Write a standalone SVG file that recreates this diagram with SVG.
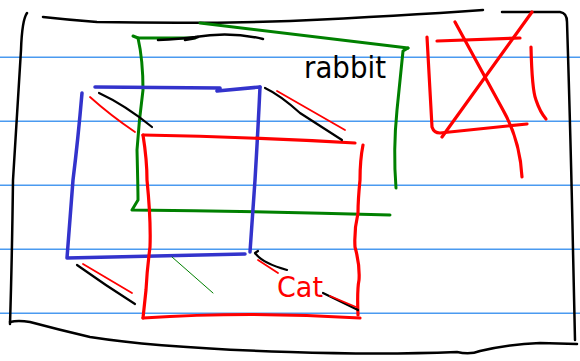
<svg xmlns="http://www.w3.org/2000/svg" width="580" height="361" viewBox="0 0 580 361">
<style>
path{fill:none;stroke-linecap:round;stroke-linejoin:round}
.rule{stroke:#4a9af0;stroke-width:1.5}
.k{stroke:#000;stroke-width:2.5}
.g{stroke:#008000;stroke-width:3}
.b{stroke:#3333cc;stroke-width:3.5}
.r{stroke:#ff0000;stroke-width:3.2}
.rt{stroke:#ff0000;stroke-width:1.8}
.kt{stroke:#000;stroke-width:2.2}
.lbl{font-family:"DejaVu Sans","Liberation Sans",sans-serif}
</style>
<rect width="580" height="361" fill="#fff"/>
<g id="rules">
<path class="rule" d="M0 57.3H580M0 121.3H580M0 185.3H580M0 249.3H580M0 313.3H580"/>
</g>
<g id="frame">
<path class="k" d="M27 13Q22 20 21 50L13 180Q12 260 10 324"/>
<path class="k" d="M10 322Q18 320 30 322Q60 330 90 337Q160 348 290 352Q380 355 457 352Q470 355 480 351Q510 344 540 343L577 344"/>
<path class="k" d="M43 17Q70 20 97 22Q200 24 290 21Q400 16 483 10"/>
<path class="k" d="M502 12L560 12Q567 13 567 22Q571 150 573 250L575 340"/>
</g>
<g id="rabbit">
<path class="g" d="M133 36L138 38Q160 38 195 38"/>
<path class="g" d="M200 23Q300 35 408 48"/>
<path class="g" d="M408 48L403 51Q400 80 397 110Q393 150 396 188"/>
<path class="g" d="M138 38Q143 60 143 90Q139 120 137 150Q138 190 138 200L132 210Q260 211 390 215"/>
<path class="k" d="M158 40Q180 39 195 37Q230 31 263 39"/>
<path class="k" stroke-width="4" d="M185 40Q193 39 198 37"/>
<text class="lbl" x="304" y="78" font-size="30" textLength="82" lengthAdjust="spacingAndGlyphs">rabbit</text>
</g>
<g id="blue-box">
<path class="b" d="M95 87L220 88L217 91L260 87"/>
<path class="b" d="M82 93Q78 140 73 180L67 258L245 254"/>
<path class="b" d="M260 87Q258 130 255 180L250 252"/>
</g>
<g id="cat">
<path class="r" d="M143 135Q250 137 355 143"/>
<path class="r" d="M143 135Q147 160 147 180Q151 220 150 247Q147 270 146 290L143 318"/>
<path class="r" d="M143 318Q250 311 360 318"/>
<path class="r" d="M363 145Q360 160 360 180Q358 200 358 213Q354 230 355 247Q360 265 359 280Q357 290 358 315"/>
<text class="lbl" x="277" y="297" font-size="29" fill="#ff0000" textLength="46" lengthAdjust="spacingAndGlyphs">Cat</text>
</g>
<g id="crossed-box">
<path class="r" d="M427 37Q430 90 432 127Q434 133 440 133L527 124"/>
<path class="r" d="M437 41L520 38"/>
<path class="r" d="M531 47Q532 90 536 100Q540 112 546 119"/>
<path class="r" d="M455 22L503 110Q520 140 522 177"/>
<path class="r" d="M532 12L442 137"/>
</g>
<g id="connectors">
<path class="rt" d="M90 97Q110 115 135 132"/>
<path class="kt" d="M99 93Q125 105 152 127"/>
<path class="kt" d="M265 88Q280 95 300 113L342 140"/>
<path class="rt" d="M277 91Q310 110 345 130"/>
<path class="rt" d="M83 264Q110 280 132 293"/>
<path class="kt" d="M77 265Q105 285 135 304"/>
<path stroke="#008000" stroke-width="1" d="M172 257L213 293"/>
<path class="kt" d="M258 251L255 253Q262 263 287 270"/>
<path class="rt" d="M258 260L278 273"/>
<path class="kt" d="M323 293L358 310"/>
<path class="rt" d="M330 296L356 307"/>
</g>
</svg>
